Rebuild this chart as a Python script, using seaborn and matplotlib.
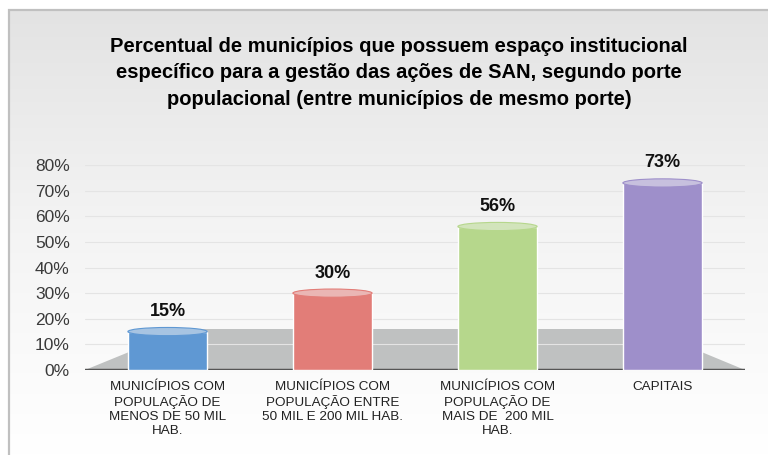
import numpy as np
import pandas as pd
import matplotlib
matplotlib.use("Agg")
import matplotlib.pyplot as plt
from matplotlib.patches import Polygon, Ellipse, Rectangle
import seaborn as sns

# ─────────────────────────────────────────────
# DATA
# ─────────────────────────────────────────────
categorias = [
    "MUNICÍPIOS COM\nPOPULAÇÃO DE\nMENOS DE 50 MIL\nHAB.",
    "MUNICÍPIOS COM\nPOPULAÇÃO ENTRE\n50 MIL E 200 MIL HAB.",
    "MUNICÍPIOS COM\nPOPULAÇÃO DE\nMAIS DE  200 MIL\nHAB.",
    "CAPITAIS",
]
percentuais = [15, 30, 56, 73]
yticks = [0, 10, 20, 30, 40, 50, 60, 70, 80]
cores = ["#5f98d3", "#e27d78", "#b6d78c", "#9e8fca"]

titulo = ("Percentual de municípios que possuem espaço institucional\n"
          "específico para a gestão das ações de SAN, segundo porte\n"
          "populacional (entre municípios de mesmo porte)")

df = pd.DataFrame({"categoria": categorias, "pct": percentuais})

# ─────────────────────────────────────────────
# STYLE
# ─────────────────────────────────────────────
sns.set_theme(style="white")
plt.rcParams["font.family"] = ["Liberation Sans", "DejaVu Sans"]
plt.rcParams["text.color"] = "black"

fig = plt.figure(figsize=(7.68, 4.55), dpi=100)
fig.patch.set_facecolor("white")

# background gradient inside the frame
bg = fig.add_axes([9 / 768, 0, 1 - 9 / 768, 1 - 10 / 455], zorder=-10)
grad = np.linspace(0, 1, 256).reshape(-1, 1)
bg.imshow(grad, aspect="auto",
          cmap=sns.blend_palette(["#e3e3e3", "#f4f4f4", "#ffffff"], as_cmap=True),
          extent=[0, 1, 0, 1], origin="upper")
bg.set_axis_off()
fig.patches.append(Rectangle((9 / 768, -0.01), 1.0, 1 - 10 / 455 + 0.01,
                             transform=fig.transFigure, fill=False,
                             edgecolor="#c0c0c0", linewidth=1.6, zorder=5))

# ─────────────────────────────────────────────
# CHART
# ─────────────────────────────────────────────
ax = fig.add_axes([85 / 768, (455 - 370) / 455, 660 / 768, 205 / 455])
ax.set_facecolor("none")

# floor of the "3D" chart
floor = Polygon([(0, 0), (1, 0), (0.85, 0.2), (0.152, 0.2)], closed=True,
                transform=ax.transAxes, facecolor="#bfc1c1", edgecolor="none", zorder=0)
ax.add_patch(floor)

for yv in yticks[1:]:
    ax.axhline(yv, color="#e4e4e4", linewidth=0.8, zorder=0.5)

bw = 0.48
sns.barplot(data=df, x="categoria", y="pct", hue="categoria", palette=cores,
            legend=False, width=bw, ax=ax, zorder=2, saturation=1)

# cylinder caps + value labels
for i, (v, c) in enumerate(zip(percentuais, cores)):
    ax.add_patch(Ellipse((i, v), bw, 3.2, facecolor=sns.light_palette(c, 3)[1],
                         edgecolor=sns.dark_palette(c, 4)[3], linewidth=0.8, zorder=3))
    ax.text(i, v + 4.5, f"{v}%", ha="center", va="bottom",
            fontsize=13, fontweight="bold", color="#111111")

ax.set_xlim(-0.5, 3.5)
ax.set_ylim(0, 80)
ax.set_yticks(yticks)
ax.set_yticklabels([f"{t}%" for t in yticks], fontsize=12.5, color="#3a3a3a")
ax.set_xticks(range(len(categorias)))
ax.set_xticklabels(categorias, fontsize=9.7, color="#222222", linespacing=1.2, va="top")
ax.tick_params(axis="y", pad=11, length=0)
ax.tick_params(axis="x", pad=8, length=0)
ax.set_xlabel("")
ax.set_ylabel("")
for s in ax.spines.values():
    s.set_visible(False)
ax.axhline(0, color="#555555", linewidth=2.5, zorder=1)

fig.text(399 / 768, 1 - 37 / 455, titulo, ha="center", va="top",
         fontsize=14.5, fontweight="bold", linespacing=1.5, color="black")

fig.savefig("out.png", dpi=100)
